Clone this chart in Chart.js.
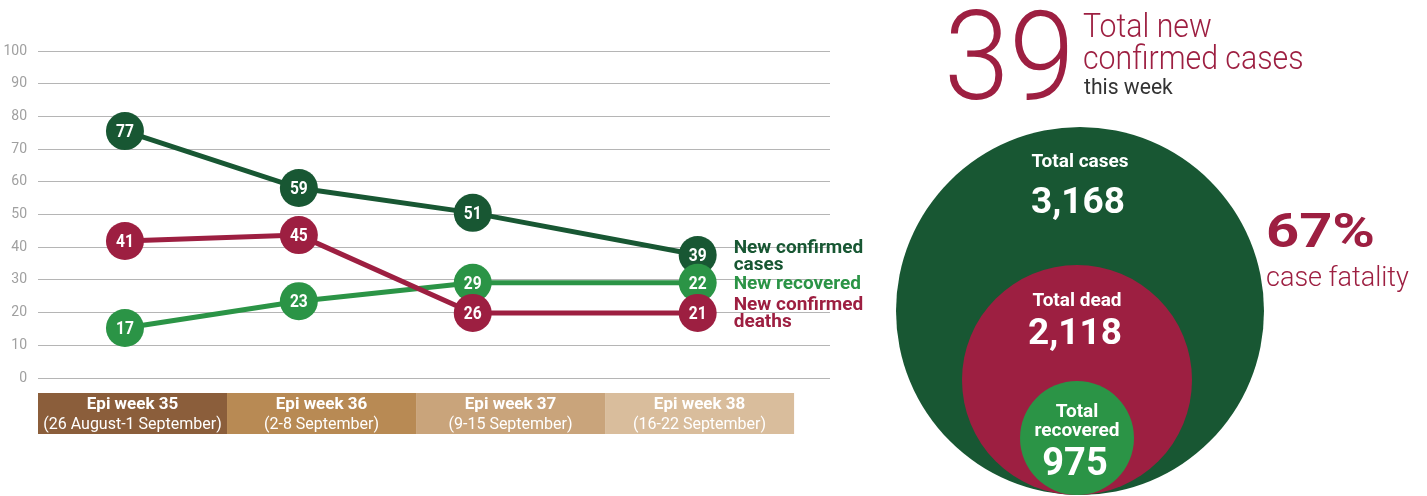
<!DOCTYPE html>
<html>
<head>
<meta charset="utf-8">
<script src="https://cdn.jsdelivr.net/npm/chart.js@4.4.1/dist/chart.umd.min.js"></script>
<style>
  body { margin: 0; width: 1427px; height: 496px; background: #fff; overflow: hidden; font-family: Roboto, sans-serif; position: relative; }
  #lineWrap { position: absolute; left: 0; top: 0; width: 900px; height: 496px; }
  #circleWrap { position: absolute; left: 880px; top: 0; width: 547px; height: 496px; }
  .txt { position: absolute; white-space: nowrap; transform-origin: left top; }
  #big39 { left: 944px; top: -5px; font-size: 124px; font-weight: 300; color: #9d1f41; line-height: 124px; transform: scaleX(0.95); }
  #headline { left: 1083px; top: 9px; font-size: 34px; font-weight: 300; color: #9d1f41; line-height: 32px; transform: scaleX(0.89); }
  #thisWeek { left: 1084px; top: 75px; font-size: 22px; color: #333; line-height: 24px; transform: scaleX(0.96); }
  #fatalPct { left: 1266px; top: 203px; font-size: 49px; font-weight: 700; color: #9d1f41; line-height: 56px; transform: scaleX(1.18); }
  #fatalTxt { left: 1266px; top: 261px; font-size: 27px; font-weight: 300; color: #9d1f41; line-height: 32px; }
</style>
</head>
<body>
<div id="lineWrap"><canvas id="trendChart"></canvas></div>
<div id="circleWrap"><canvas id="totalsChart"></canvas></div>
<div class="txt" id="big39">39</div>
<div class="txt" id="headline">Total new<br>confirmed cases</div>
<div class="txt" id="thisWeek">this week</div>
<div class="txt" id="fatalPct">67%</div>
<div class="txt" id="fatalTxt">case fatality</div>
<script>
// Epi weeks on the x axis (each week spans one unit)
const weeks = [35, 36, 37, 38];
const weekTitles = ['Epi week 35', 'Epi week 36', 'Epi week 37', 'Epi week 38'];
const weekDates = ['(26 August-1 September)', '(2-8 September)', '(9-15 September)', '(16-22 September)'];
// where each point sits inside its week
const pointWeek = [35.46, 36.38, 37.30, 38.49];

// plotted levels (as drawn) and printed labels
const casesPlot = [75.5, 58.1, 50.5, 37.6];
const deathsPlot = [41.9, 43.7, 19.9, 19.9];
const recoveredPlot = [15.3, 23.5, 29.1, 29.1];
const casesLabels = ['77', '59', '51', '39'];
const deathsLabels = ['41', '45', '26', '21'];
const recoveredLabels = ['17', '23', '29', '22'];

const yTicks = [0, 10, 20, 30, 40, 50, 60, 70, 80, 90, 100];

// totals for the circles
const totalNames = [['Total cases'], ['Total dead'], ['Total', 'recovered']];
const totalValues = [3168, 2118, 975];

const DARK = '#185733', GREEN = '#2b9446', RED = '#9d1f41';
const bandColors = ['#8b5e3b', '#b88a54', '#c9a47b', '#d9bd9c'];

const toPts = arr => arr.map((v, i) => ({ x: pointWeek[i], y: v }));

// condensed-looking text
function squeezeText(ctx, text, x, y, sx) {
    ctx.save();
    ctx.translate(x, y);
    ctx.scale(sx, 1);
    ctx.fillText(text, 0, 0);
    ctx.restore();
}

const pointLabelPlugin = {
    id: 'pointLabels',
    afterDatasetsDraw(chart) {
        const ctx = chart.ctx;
        ctx.save();
        ctx.fillStyle = '#fff';
        ctx.font = 'bold 19px Roboto';
        ctx.textAlign = 'center';
        ctx.textBaseline = 'middle';
        chart.data.datasets.forEach((ds, di) => {
            chart.getDatasetMeta(di).data.forEach((pt, i) => {
                squeezeText(ctx, ds.valueLabels[i], pt.x, pt.y + 1, 0.82);
            });
        });
        // series names at the right end
        ctx.textAlign = 'left';
        ctx.textBaseline = 'alphabetic';
        ctx.font = 'bold 19px Roboto';
        chart.data.datasets.forEach((ds, di) => {
            const pts = chart.getDatasetMeta(di).data;
            const last = pts[pts.length - 1];
            const n = ds.nameLines.length;
            ctx.fillStyle = ds.borderColor;
            ds.nameLines.forEach((line, li) => {
                ctx.fillText(line, last.x + 36, last.y + 6 + (li - (n - 1) / 2) * 17);
            });
        });
        ctx.restore();
    }
};

const weekBandPlugin = {
    id: 'weekBands',
    afterDraw(chart) {
        const ctx = chart.ctx;
        const xs = chart.scales.x;
        ctx.save();
        weeks.forEach((w, i) => {
            const x0 = xs.getPixelForValue(w);
            const x1 = xs.getPixelForValue(w + 1);
            ctx.fillStyle = bandColors[i];
            ctx.fillRect(x0, 393, x1 - x0, 41);
            ctx.fillStyle = '#fff';
            ctx.textAlign = 'center';
            ctx.textBaseline = 'alphabetic';
            ctx.font = 'bold 17px Roboto';
            ctx.fillText(weekTitles[i], (x0 + x1) / 2, 409);
            ctx.font = '16px Roboto';
            ctx.fillText(weekDates[i], (x0 + x1) / 2, 429);
        });
        ctx.restore();
    }
};

new Chart(document.getElementById('trendChart'), {
    type: 'line',
    data: {
        datasets: [
            { label: 'New confirmed deaths', data: toPts(deathsPlot), valueLabels: deathsLabels, nameLines: ['New confirmed', 'deaths'],
              borderColor: RED, backgroundColor: RED, order: 1 },
            { label: 'New recovered', data: toPts(recoveredPlot), valueLabels: recoveredLabels, nameLines: ['New recovered'],
              borderColor: GREEN, backgroundColor: GREEN, order: 2 },
            { label: 'New confirmed cases', data: toPts(casesPlot), valueLabels: casesLabels, nameLines: ['New confirmed', 'cases'],
              borderColor: DARK, backgroundColor: DARK, order: 3 }
        ]
    },
    options: {
        responsive: true,
        maintainAspectRatio: false,
        animation: false,
        events: [],
        layout: { autoPadding: false, padding: { left: 0, top: 51, right: 70, bottom: 118 } },
        elements: {
            line: { borderWidth: 5, tension: 0 },
            point: { radius: 19, borderWidth: 0, hoverRadius: 19 }
        },
        plugins: { legend: { display: false }, tooltip: { enabled: false } },
        scales: {
            x: { type: 'linear', display: false, min: 35, max: 39.19 },
            y: {
                min: 0, max: 100,
                afterFit: s => { s.width = 38; },
                afterBuildTicks: s => { s.ticks = yTicks.map(v => ({ value: v })); },
                border: { display: false },
                grid: { color: '#b5b5b5', lineWidth: 1, drawTicks: false },
                ticks: { color: '#a0a0a0', padding: 11, font: { family: 'Roboto', size: 14 } }
            }
        }
    },
    plugins: [pointLabelPlugin, weekBandPlugin]
});

// nested circles, all resting on the same bottom line
const circleColors = [DARK, RED, GREEN];
const circleRadius = [184, 115, 57];
const circleCenterX = [200, 197, 197];
const circleBase = 495;
const nameBaselines = [[167], [306], [417, 436]];
const valueBaselines = [213, 344, 475];
const valueFonts = [37, 37, 38];

const circleTextPlugin = {
    id: 'circleText',
    afterDatasetsDraw(chart) {
        const ctx = chart.ctx;
        ctx.save();
        ctx.fillStyle = '#fff';
        ctx.textAlign = 'center';
        ctx.textBaseline = 'alphabetic';
        chart.data.datasets.forEach((ds, i) => {
            const pt = chart.getDatasetMeta(i).data[0];
            ctx.font = 'bold 19px Roboto';
            totalNames[i].forEach((line, li) => ctx.fillText(line, pt.x, nameBaselines[i][li]));
            ctx.font = `bold ${valueFonts[i]}px Roboto`;
            ctx.fillText(totalValues[i].toLocaleString('en-US'), pt.x - 2, valueBaselines[i]);
        });
        ctx.restore();
    }
};

new Chart(document.getElementById('totalsChart'), {
    type: 'bubble',
    data: {
        datasets: totalValues.map((v, i) => ({
            label: totalNames[i].join(' '),
            data: [{ x: circleCenterX[i], y: circleBase - circleRadius[i], r: circleRadius[i], v: v }],
            backgroundColor: circleColors[i],
            borderWidth: 0,
            hoverBorderWidth: 0,
            order: 3 - i
        }))
    },
    options: {
        responsive: true,
        maintainAspectRatio: false,
        animation: false,
        events: [],
        layout: { autoPadding: false, padding: 0 },
        plugins: { legend: { display: false }, tooltip: { enabled: false } },
        scales: {
            x: { type: 'linear', display: false, min: 0, max: 547 },
            y: { type: 'linear', display: false, min: 0, max: 496, reverse: true }
        }
    },
    plugins: [circleTextPlugin]
});
</script>
</body>
</html>
